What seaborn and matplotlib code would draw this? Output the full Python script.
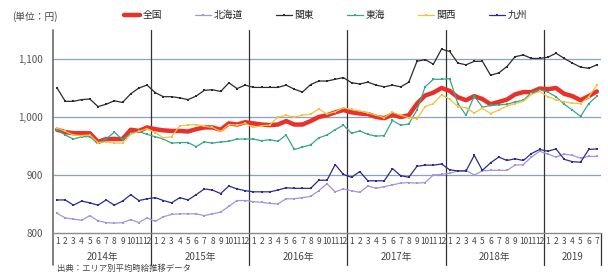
import matplotlib
matplotlib.use('Agg')
import matplotlib.pyplot as plt
import matplotlib.transforms as mtransforms
import pandas as pd
import seaborn as sns

sns.set_style('white')
plt.rcParams['font.family'] = ['Noto Sans CJK JP', 'DejaVu Sans']

# ==================== データ ====================
years = ['2014年', '2015年', '2016年', '2017年', '2018年', '2019']
months_per_year = [12, 12, 12, 12, 12, 7]
month_labels = [str(m) for n in months_per_year for m in range(1, n + 1)]

zenkoku = [978, 974, 972, 972, 972, 957, 962, 962, 962, 978, 976, 982,
           979, 977, 976, 976, 975, 979, 982, 982, 978, 989, 987, 991,
           989, 987, 986, 987, 993, 987, 987, 993, 1000, 1003, 1008, 1012,
           1008, 1006, 1005, 1000, 998, 1004, 1000, 1003, 1023, 1037, 1042, 1050,
           1045, 1034, 1029, 1036, 1031, 1022, 1026, 1030, 1039, 1043, 1043, 1049,
           1048, 1050, 1040, 1036, 1029, 1036, 1044]
hokkaido = [834, 826, 824, 822, 830, 821, 818, 817, 818, 823, 818, 826,
            820, 828, 832, 833, 833, 833, 830, 833, 836, 846, 856, 856,
            854, 853, 851, 850, 859, 859, 861, 863, 873, 885, 871, 876,
            873, 870, 881, 877, 880, 883, 886, 887, 886, 887, 900, 901,
            903, 907, 908, 900, 907, 908, 908, 908, 917, 918, 931, 941,
            936, 931, 936, 934, 929, 932, 932]
kanto = [1050, 1027, 1027, 1030, 1031, 1018, 1022, 1028, 1025, 1040, 1050, 1055,
         1042, 1035, 1035, 1033, 1030, 1036, 1046, 1047, 1044, 1059, 1049, 1055,
         1051, 1051, 1051, 1051, 1055, 1048, 1043, 1056, 1062, 1062, 1065, 1068,
         1059, 1057, 1060, 1055, 1052, 1055, 1052, 1060, 1096, 1099, 1091, 1117,
         1113, 1093, 1090, 1096, 1096, 1072, 1076, 1087, 1104, 1107, 1101, 1101,
         1103, 1110, 1101, 1093, 1086, 1084, 1090]
tokai = [978, 969, 962, 966, 966, 955, 962, 974, 961, 972, 975, 970,
         966, 962, 955, 956, 956, 949, 957, 955, 957, 958, 962, 962,
         962, 959, 961, 958, 969, 944, 948, 952, 964, 969, 978, 986,
         972, 976, 970, 967, 968, 994, 986, 988, 1012, 1052, 1065, 1065,
         1066, 1023, 1003, 1036, 1017, 1020, 1021, 1022, 1026, 1029, 1042, 1047,
         1043, 1035, 1022, 1012, 1001, 1023, 1036]
kansai = [981, 975, 969, 968, 969, 956, 957, 955, 955, 970, 975, 980,
          973, 964, 966, 985, 986, 987, 984, 982, 975, 987, 986, 989,
          982, 985, 986, 1000, 1003, 1000, 1003, 1005, 1014, 1005, 1009, 1016,
          1013, 1010, 1007, 1003, 999, 1008, 1003, 999, 997, 1018, 1023, 1038,
          1031, 1018, 1016, 1007, 1015, 1006, 1012, 1019, 1023, 1027, 1039, 1044,
          1035, 1030, 1026, 1024, 1023, 1035, 1055]
kyushu = [857, 857, 848, 855, 852, 848, 857, 848, 855, 866, 856, 859,
          861, 856, 852, 861, 857, 866, 876, 874, 868, 881, 876, 873,
          871, 871, 871, 874, 878, 877, 877, 877, 891, 891, 918, 901,
          896, 906, 890, 890, 890, 911, 899, 896, 915, 917, 917, 919,
          909, 907, 907, 934, 908, 921, 931, 925, 928, 925, 937, 944,
          941, 945, 927, 923, 922, 944, 945]

regions = ['全国', '北海道', '関東', '東海', '関西', '九州']
colors = {'全国': '#e8312b', '北海道': '#a394dc', '関東': '#2b2b2b',
          '東海': '#35a889', '関西': '#f2c23e', '九州': '#2f2b8e'}

df = pd.DataFrame({'月': range(len(zenkoku)), '全国': zenkoku, '北海道': hokkaido,
                   '関東': kanto, '東海': tokai, '関西': kansai, '九州': kyushu})
long_df = df.melt(id_vars='月', var_name='地域', value_name='時給')

# ==================== 作図 ====================
fig = plt.figure(figsize=(6.08, 2.73), dpi=100)
ax = fig.add_axes([53 / 608, 40 / 273, 548 / 608, 203 / 273])

for name in regions:
    sub = long_df[long_df['地域'] == name]
    if name == '全国':
        sns.lineplot(data=sub, x='月', y='時給', ax=ax, color=colors[name],
                     linewidth=3.2, label=name, zorder=3)
    else:
        sns.lineplot(data=sub, x='月', y='時給', ax=ax, color=colors[name],
                     linewidth=0.9, marker='s', markersize=1.9,
                     markeredgewidth=0, label=name, zorder=4)

ax.set_xlim(-0.5, len(zenkoku) - 0.5)
ax.set_ylim(800, 1150)
ax.set_yticks([800, 900, 1000, 1100])
ax.set_yticklabels([f'{v:,}' for v in [800, 900, 1000, 1100]], fontsize=7, color='#555555')
for v in [900, 1000, 1100]:
    ax.axhline(v, color='#8ba3bd', linewidth=0.9, zorder=1)

ax.set_xticks(range(len(month_labels)))
ax.set_xticklabels(month_labels, fontsize=6, color='#444444')
ax.tick_params(axis='both', length=0, pad=3)
ax.tick_params(axis='y', pad=7)
ax.set_xlabel('')
ax.set_ylabel('')

for s in ['top', 'right', 'left']:
    ax.spines[s].set_visible(False)
ax.spines['bottom'].set_color('#8a8a8a')
ax.spines['bottom'].set_linewidth(1.0)

# 年の区切り線と年ラベル
bounds = [-0.5]
for n in months_per_year:
    bounds.append(bounds[-1] + n)
ax.axvline(-0.5, ymin=-0.158, ymax=1, color='#777777', linewidth=1.3, clip_on=False)
for b in bounds[1:-1]:
    ax.axvline(b, ymin=-0.158, ymax=1, color='#333333', linewidth=0.9, clip_on=False)
ax.axvline(bounds[-1], ymin=-0.158, ymax=0, color='#333333', linewidth=0.9, clip_on=False)

trans = mtransforms.blended_transform_factory(ax.transData, ax.transAxes)
for i, y in enumerate(years):
    ax.text((bounds[i] + bounds[i + 1]) / 2, -0.118, y, transform=trans,
            ha='center', va='center', fontsize=7, color='#444444')

# 凡例
handles, labels = ax.get_legend_handles_labels()
ax.get_legend().remove()
fig.legend(handles, labels, loc='center', bbox_to_anchor=(0.535, 0.945), ncol=6,
           frameon=False, fontsize=7, handlelength=1.7, handletextpad=0.2,
           columnspacing=3.4)

fig.text(12 / 608, 0.94, '(単位：円)', fontsize=7, color='#444444', va='center')
fig.text(57 / 608, 0.5 / 273, '出典：エリア別平均時給推移データ', fontsize=6,
         color='#444444', va='bottom')

plt.savefig('out.png', dpi=100)
